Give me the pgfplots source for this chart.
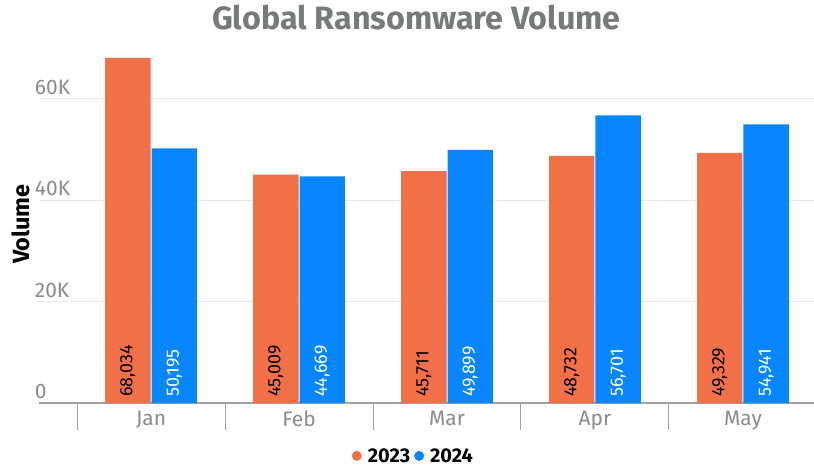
\documentclass[border=0pt]{standalone}
\usepackage{fontspec}
\setmainfont{Fira Sans}
\usepackage{pgfplots}
\pgfplotsset{compat=1.18}
\definecolor{c23}{RGB}{242,112,72}
\definecolor{c24}{RGB}{8,134,255}
\definecolor{titlegray}{RGB}{118,122,122}
\definecolor{tickgray}{RGB}{136,140,140}
\definecolor{gridgray}{RGB}{232,232,232}
\definecolor{axisgray}{RGB}{160,160,160}
\begin{document}
\begin{tikzpicture}
\path[use as bounding box] (-39bp,-64bp) rectangle (775bp,403bp);
\begin{axis}[
  at={(0,0)}, anchor=south west,
  scale only axis, width=775bp, height=355bp,
  xmin=-0.757, xmax=4.48, ymin=0, ymax=70000,
  scaled y ticks=false,
  /pgf/number format/assume math mode=true,
  ybar=1bp, bar width=0.307,
  axis x line*=bottom, axis y line*=left,
  y axis line style={draw=none},
  x axis line style={draw=axisgray, line width=1.5bp, -},
  xtick={0,1,2,3,4}, xticklabels={Jan,Feb,Mar,Apr,May},
  minor xtick={-0.5,0.5,1.5,2.5,3.5,4.5},
  major x tick style={draw=none},
  minor x tick style={draw=axisgray, line width=1bp},
  minor tick length=27bp,
  tick align=outside,
  xticklabel style={font=\fontsize{21}{21}\selectfont\color{tickgray}, yshift=0bp},
  ytick={0,20000,40000,60000}, yticklabels={0,20K,40K,60K},
  ytick style={draw=none},
  yticklabel style={anchor=south west, inner sep=0pt, yshift=4bp, font=\fontsize{21}{21}\selectfont\color{tickgray}},
  ymajorgrids, grid style={draw=gridgray, line width=0.8bp},
  title={Global Ransomware Volume},
  title style={at={(axis description cs:0.487,1.069)}, anchor=center, font=\fontsize{32.4}{32.4}\selectfont\bfseries\color{titlegray}},
  ylabel={Volume},
  ylabel style={at={(axis description cs:-0.024,0.504)}, anchor=center, font=\fontsize{23.5}{23.5}\selectfont\bfseries},
  legend columns=2,
  legend style={draw=none, at={(axis description cs:0.483,-0.149)}, anchor=center,
    font=\fontsize{20}{20}\selectfont\bfseries,
    /tikz/every even column/.append style={column sep=2bp}},
  visualization depends on={y \as \rawy},
  nodes near coords={\pgfmathprintnumber[fixed, precision=0, 1000 sep={,}]{\pgfplotspointmeta}},
  every node near coord/.append style={shift={(axis direction cs:0,-\rawy)}, rotate=90, anchor=west, inner sep=0pt, inner xsep=6bp, font=\fontsize{18}{18}\selectfont},
]
\addplot[fill=c23, draw=none,
  legend image code/.code={\fill[c23] (0bp,0bp) circle (5bp); \path (-5bp,0bp) -- (9bp,0bp);},
  every node near coord/.append style={text=black}]
  coordinates {(0,68034) (1,45009) (2,45711) (3,48732) (4,49329)};
\addlegendentry{2023}
\addplot[fill=c24, draw=none,
  legend image code/.code={\fill[c24] (0bp,0bp) circle (5bp); \path (-5bp,0bp) -- (9bp,0bp);},
  every node near coord/.append style={text=white}]
  coordinates {(0,50195) (1,44669) (2,49899) (3,56701) (4,54941)};
\addlegendentry{2024}
\end{axis}
\end{tikzpicture}
\end{document}
